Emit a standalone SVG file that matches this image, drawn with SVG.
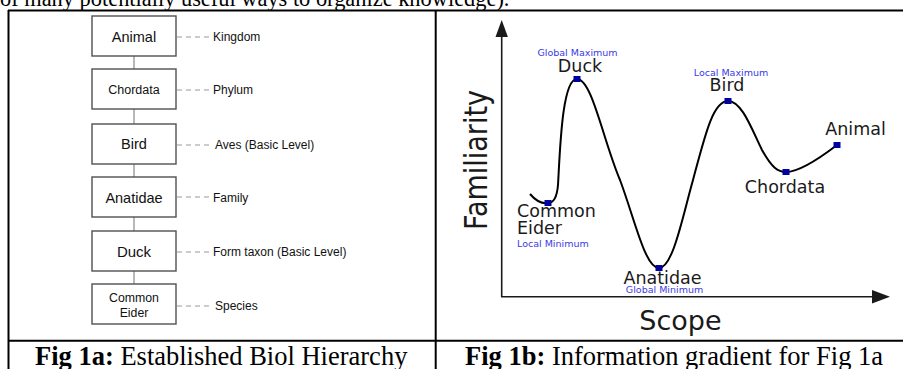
<svg xmlns="http://www.w3.org/2000/svg" width="903" height="369" viewBox="0 0 903 369">
<defs>
<style>
.frame{stroke:#000;stroke-width:2;fill:none}
.box{fill:#fff;stroke:#505050;stroke-width:1.4}
.vlink{stroke:#9a9a9a;stroke-width:1.4}
.dash{stroke:#9a9a9a;stroke-width:1.2;stroke-dasharray:5 4}
.bt{font-family:"Liberation Sans",Arial,sans-serif;fill:#111;text-anchor:middle}
.lt{font-family:"Liberation Sans",Arial,sans-serif;fill:#111;font-size:12px}
.cap{font-family:"Liberation Serif","Times New Roman",serif;fill:#000;font-size:26.5px}
.gl{font-family:"DejaVu Sans",Verdana,sans-serif;fill:#1a1a1a;font-size:17.5px}
.bl{font-family:"DejaVu Sans",Verdana,sans-serif;fill:#3a3ae6;font-size:9.5px}
.pt{fill:#0000a0}
.axis{stroke:#1a1a1a;stroke-width:1.6;fill:none}
</style>
</defs>
<rect width="903" height="369" fill="#fff"/>
<text x="0" y="6" font-family="'Liberation Serif','Times New Roman',serif" font-size="22.4px" fill="#000">of many potentially useful ways to organize knowledge).</text>
<g id="table">
<line class="frame" x1="8" y1="10.5" x2="903" y2="10.5"/>
<line class="frame" x1="8.5" y1="10" x2="8.5" y2="369"/>
<line class="frame" x1="435.7" y1="10" x2="435.7" y2="369"/>
<line class="frame" x1="8" y1="340.7" x2="903" y2="340.7"/>
</g>
<g id="connectors">
<line class="vlink" x1="134" y1="56" x2="134" y2="69"/>
<line class="vlink" x1="134" y1="109" x2="134" y2="124"/>
<line class="vlink" x1="134" y1="164" x2="134" y2="177"/>
<line class="vlink" x1="134" y1="217" x2="134" y2="231"/>
<line class="vlink" x1="134" y1="271" x2="134" y2="284"/>
<line class="dash" x1="177" y1="37" x2="213" y2="37"/>
<line class="dash" x1="177" y1="90" x2="213" y2="90"/>
<line class="dash" x1="177" y1="145" x2="213" y2="145"/>
<line class="dash" x1="177" y1="197" x2="213" y2="197"/>
<line class="dash" x1="177" y1="252" x2="213" y2="252"/>
<line class="dash" x1="177" y1="306" x2="213" y2="306"/>
</g>
<g id="animal"><rect class="box" x="92" y="16" width="84" height="40"/><text class="bt" x="134" y="41.5" font-size="14.5px">Animal</text><text class="lt" x="213" y="40.5">Kingdom</text></g>
<g id="chordata"><rect class="box" x="92" y="69" width="84" height="40"/><text class="bt" x="134" y="93.5" font-size="12.5px">Chordata</text><text class="lt" x="213" y="94">Phylum</text></g>
<g id="bird"><rect class="box" x="92" y="124" width="84" height="40"/><text class="bt" x="134" y="149" font-size="14.5px">Bird</text><text class="lt" x="215" y="149">Aves (Basic Level)</text></g>
<g id="anatidae"><rect class="box" x="92" y="177" width="84" height="40"/><text class="bt" x="134" y="202.5" font-size="14.5px">Anatidae</text><text class="lt" x="213" y="202">Family</text></g>
<g id="duck"><rect class="box" x="92" y="231" width="84" height="40"/><text class="bt" x="134" y="256.5" font-size="15px">Duck</text><text class="lt" x="213" y="256">Form taxon (Basic Level)</text></g>
<g id="common-eider"><rect class="box" x="92" y="284" width="84" height="40"/><text class="bt" x="134" y="302" font-size="12.3px">Common</text><text class="bt" x="134" y="316.5" font-size="12.3px">Eider</text><text class="lt" x="215" y="309.5">Species</text></g>
<g id="caption-a"><text class="cap" x="35" y="364.5"><tspan font-weight="bold">Fig 1a:</tspan> Established Biol Hierarchy</text></g>
<g id="caption-b"><text class="cap" x="465" y="364.5"><tspan font-weight="bold">Fig 1b:</tspan> Information gradient for Fig 1a</text></g>
<g id="graph">
<line class="axis" x1="501.7" y1="297" x2="501.7" y2="34"/>
<polygon points="501.7,20 495.5,37 507.9,37" fill="#1a1a1a"/>
<line class="axis" x1="501" y1="296.7" x2="874" y2="296.7"/>
<polygon points="890,296.7 872,290 872,303.4" fill="#1a1a1a"/>
<text font-family="'DejaVu Sans',Verdana,sans-serif" font-size="27px" fill="#1a1a1a" text-anchor="middle" transform="translate(486.5,160) rotate(-90) scale(1,1.15)">Familiarity</text>
<text font-family="'DejaVu Sans',Verdana,sans-serif" font-size="27px" fill="#1a1a1a" text-anchor="middle" x="680.5" y="330">Scope</text>
<path d="M530,194 C536,201 542,204 548,203 C553,203 557,197 558,185 C560,150 562,79 577,79 C592,79 603,140 620,180 C635,220 645,268 659,268 C673,268 683,215 693,180 C705,135 713,101 728,101 C742,101 752,130 762,150 C772,168 778,172 786,172 C800,172 820,158 837,145" fill="none" stroke="#000" stroke-width="2"/>
</g>
<g id="pt-common-eider"><rect class="pt" x="544.5" y="200" width="7" height="6"/><text class="gl" x="517" y="217" font-size="14.5px">Common</text><text class="gl" x="517" y="234" font-size="14.5px">Eider</text><text class="bl" x="517" y="246.5">Local Minimum</text></g>
<g id="pt-duck"><rect class="pt" x="573.5" y="76" width="7" height="6"/><text class="gl" x="580" y="72" text-anchor="middle">Duck</text><text class="bl" x="577.5" y="56" text-anchor="middle">Global Maximum</text></g>
<g id="pt-anatidae"><rect class="pt" x="655.5" y="265" width="7" height="6"/><text class="gl" x="662.5" y="284" text-anchor="middle" font-size="16px">Anatidae</text><text class="bl" x="664.5" y="293" text-anchor="middle">Global Minimum</text></g>
<g id="pt-bird"><rect class="pt" x="724.5" y="98" width="7" height="6"/><text class="gl" x="727" y="91" text-anchor="middle">Bird</text><text class="bl" x="731" y="75.5" text-anchor="middle">Local Maximum</text></g>
<g id="pt-chordata"><rect class="pt" x="782.5" y="169" width="7" height="6"/><text class="gl" x="785" y="193" text-anchor="middle">Chordata</text></g>
<g id="pt-animal"><rect class="pt" x="833.5" y="142" width="7" height="6"/><text class="gl" x="855.5" y="135" text-anchor="middle">Animal</text></g>
</svg>
